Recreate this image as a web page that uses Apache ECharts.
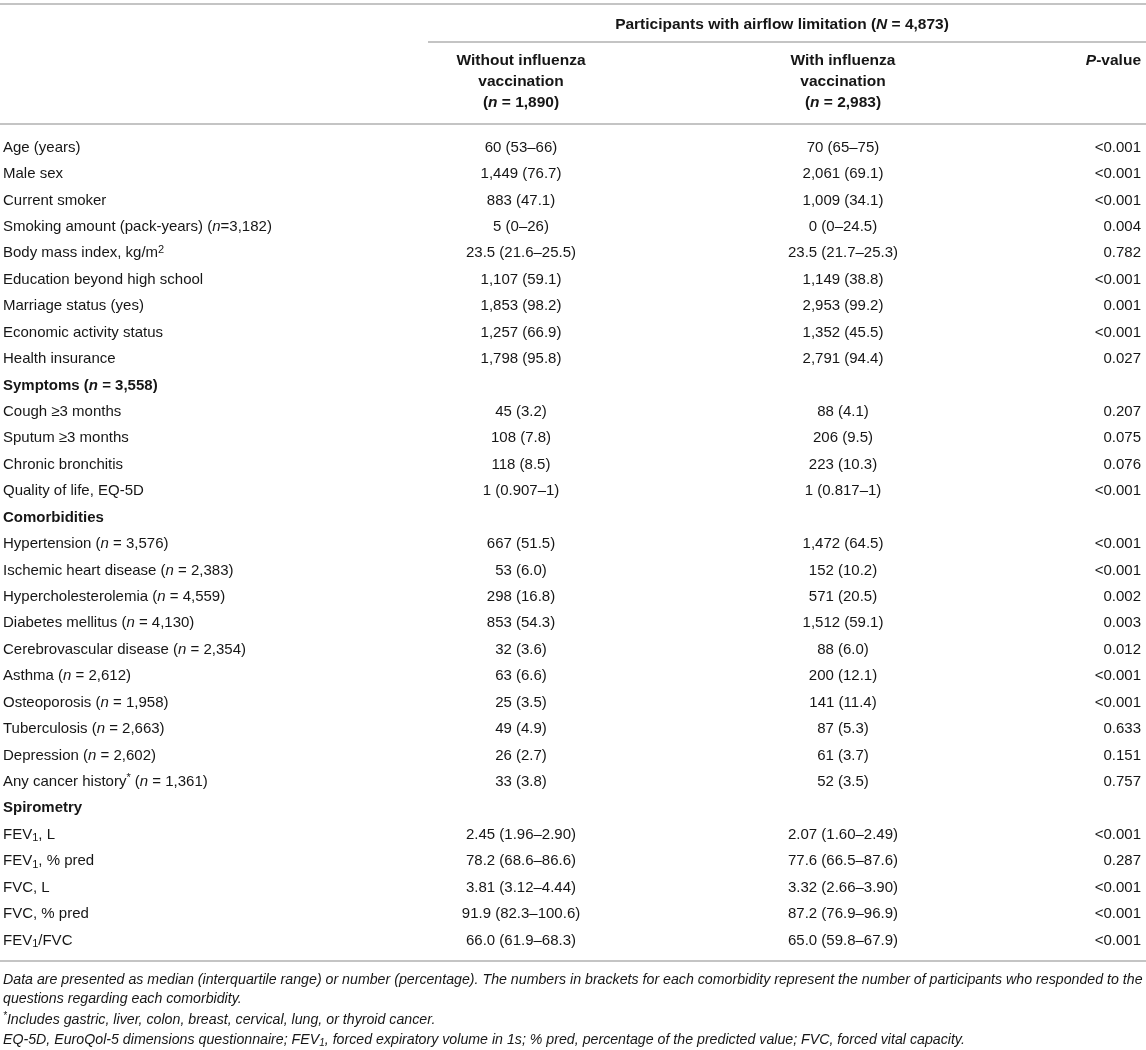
<!DOCTYPE html>
<html>
<head>
<meta charset="utf-8">
<title>Participants with airflow limitation</title>
<script src="https://cdn.jsdelivr.net/npm/echarts@6/dist/echarts.min.js"></script>
<style>
html, body { margin: 0; padding: 0; background: #fff; }
#tableChart { width: 1146px; height: 1050px; }
</style>
</head>
<body>
<div id="tableChart"></div>
<script>
// table rows
var rowLabels = [
	'Age (years)',
	'Male sex',
	'Current smoker',
	'Smoking amount (pack-years) (n=3,182)',
	'Body mass index, kg/m2',
	'Education beyond high school',
	'Marriage status (yes)',
	'Economic activity status',
	'Health insurance',
	'Symptoms (n = 3,558)',
	'Cough \u22653 months',
	'Sputum \u22653 months',
	'Chronic bronchitis',
	'Quality of life, EQ-5D',
	'Comorbidities',
	'Hypertension (n = 3,576)',
	'Ischemic heart disease (n = 2,383)',
	'Hypercholesterolemia (n = 4,559)',
	'Diabetes mellitus (n = 4,130)',
	'Cerebrovascular disease (n = 2,354)',
	'Asthma (n = 2,612)',
	'Osteoporosis (n = 1,958)',
	'Tuberculosis (n = 2,663)',
	'Depression (n = 2,602)',
	'Any cancer history* (n = 1,361)',
	'Spirometry',
	'FEV1, L',
	'FEV1, % pred',
	'FVC, L',
	'FVC, % pred',
	'FEV1/FVC'
];
var sectionRows = ['Symptoms (n = 3,558)', 'Comorbidities', 'Spirometry'];

var withoutVacc = [
	'60 (53\u201366)', '1,449 (76.7)', '883 (47.1)', '5 (0\u201326)', '23.5 (21.6\u201325.5)',
	'1,107 (59.1)', '1,853 (98.2)', '1,257 (66.9)', '1,798 (95.8)', '',
	'45 (3.2)', '108 (7.8)', '118 (8.5)', '1 (0.907\u20131)', '',
	'667 (51.5)', '53 (6.0)', '298 (16.8)', '853 (54.3)', '32 (3.6)',
	'63 (6.6)', '25 (3.5)', '49 (4.9)', '26 (2.7)', '33 (3.8)', '',
	'2.45 (1.96\u20132.90)', '78.2 (68.6\u201386.6)', '3.81 (3.12\u20134.44)', '91.9 (82.3\u2013100.6)', '66.0 (61.9\u201368.3)'
];
var withVacc = [
	'70 (65\u201375)', '2,061 (69.1)', '1,009 (34.1)', '0 (0\u201324.5)', '23.5 (21.7\u201325.3)',
	'1,149 (38.8)', '2,953 (99.2)', '1,352 (45.5)', '2,791 (94.4)', '',
	'88 (4.1)', '206 (9.5)', '223 (10.3)', '1 (0.817\u20131)', '',
	'1,472 (64.5)', '152 (10.2)', '571 (20.5)', '1,512 (59.1)', '88 (6.0)',
	'200 (12.1)', '141 (11.4)', '87 (5.3)', '61 (3.7)', '52 (3.5)', '',
	'2.07 (1.60\u20132.49)', '77.6 (66.5\u201387.6)', '3.32 (2.66\u20133.90)', '87.2 (76.9\u201396.9)', '65.0 (59.8\u201367.9)'
];
var pValues = [
	'<0.001', '<0.001', '<0.001', '0.004', '0.782', '<0.001', '0.001', '<0.001', '0.027', '',
	'0.207', '0.075', '0.076', '<0.001', '',
	'<0.001', '<0.001', '0.002', '0.003', '0.012', '<0.001', '<0.001', '0.633', '0.151', '0.757', '',
	'<0.001', '0.287', '<0.001', '<0.001', '<0.001'
];

// header texts
var groupTitle = 'Participants with airflow limitation (N = 4,873)';
var withoutTitle = ['Without influenza', 'vaccination', '(n = 1,890)'];
var withTitle = ['With influenza', 'vaccination', '(n = 2,983)'];
var pTitle = 'P-value';

var footnotes = [
	'Data are presented as median (interquartile range) or number (percentage). The numbers in brackets for each comorbidity represent the number of participants who responded to the',
	'questions regarding each comorbidity.',
	'*Includes gastric, liver, colon, breast, cervical, lung, or thyroid cancer.',
	'EQ-5D, EuroQol-5 dimensions questionnaire; FEV1, forced expiratory volume in 1s; % pred, percentage of the predicted value; FVC, forced vital capacity.'
];

var FONT = "'Liberation Sans', Arial, Helvetica, sans-serif";
var TEXT = '#161616';
var RULE = '#b0b0b0';
var W = 1146;
var ROW_TOP = 134.3, ROW_H = 26.43;
var X_LABEL = 3, X_WITHOUT = 521, X_WITH = 843, X_P = 1141;
var BODY = 15, HEAD = 15.5, NOTE = 14.2;

function makeRich(size, weight, italic) {
	var st = italic ? 'italic' : 'normal';
	return {
		it:  { fontFamily: FONT, fontSize: size, fontStyle: 'italic', fontWeight: 'normal', fill: TEXT },
		itb: { fontFamily: FONT, fontSize: size, fontStyle: 'italic', fontWeight: 'bold', fill: TEXT },
		sub: { fontFamily: FONT, fontSize: Math.round(size * 0.7), fontStyle: st, fontWeight: weight, fill: TEXT,
			verticalAlign: 'bottom', lineHeight: Math.round(size * 0.75) },
		sup: { fontFamily: FONT, fontSize: Math.round(size * 0.7), fontStyle: st, fontWeight: weight, fill: TEXT,
			verticalAlign: 'top', lineHeight: Math.round(size * 0.75) }
	};
}

function markup(s, bold) {
	var it = bold ? 'itb' : 'it';
	return s.replace(/\((n|N)( ?)=/g, function(m, v, sp){ return '({' + it + '|' + v + '}' + sp + '='; })
		.replace(/^P-/, '{' + it + '|P}-')
		.replace(/FEV1/g, 'FEV{sub|1}')
		.replace('kg/m2', 'kg/m{sup|2}')
		.replace('history*', 'history{sup|*}')
		.replace(/^\*/, '{sup|*}');
}

function textEl(x, y, str, align, size, bold, italic) {
	var weight = bold ? 'bold' : 'normal';
	return {
		type: 'text',
		x: x,
		y: y,
		silent: true,
		style: {
			text: markup(str, bold),
			fontFamily: FONT,
			fontSize: size,
			fontWeight: weight,
			fontStyle: italic ? 'italic' : 'normal',
			fill: TEXT,
			lineHeight: Math.round(size * 1.2),
			align: align,
			textAlign: align,
			verticalAlign: 'middle',
			textVerticalAlign: 'middle',
			rich: makeRich(size, weight, italic)
		}
	};
}

function renderRow(params, api) {
	var i = api.value(1);
	var bold = sectionRows.indexOf(rowLabels[i]) >= 0;
	var y = api.coord([0, i])[1];
	var kids = [textEl(api.coord([X_LABEL, i])[0], y, rowLabels[i], 'left', BODY, bold, false)];
	if (withoutVacc[i]) kids.push(textEl(api.coord([X_WITHOUT, i])[0], y, withoutVacc[i], 'center', BODY, false, false));
	if (withVacc[i]) kids.push(textEl(api.coord([X_WITH, i])[0], y, withVacc[i], 'center', BODY, false, false));
	if (pValues[i]) kids.push(textEl(api.coord([X_P, i])[0], y, pValues[i], 'right', BODY, false, false));
	return { type: 'group', children: kids };
}

function rule(x1, x2, y) {
	return { type: 'line', silent: true, shape: { x1: x1, y1: y, x2: x2, y2: y },
		style: { stroke: RULE, lineWidth: 1.5 } };
}

var graphics = [
	rule(0, W, 4),
	rule(428, W, 42),
	rule(0, W, 124),
	rule(0, W, 961),
	textEl(782, 25, groupTitle, 'center', HEAD, true, false),
	textEl(X_P, 61, pTitle, 'right', HEAD, true, false)
];
for (var h = 0; h < withoutTitle.length; h++) {
	graphics.push(textEl(X_WITHOUT, 61 + h * 21, withoutTitle[h], 'center', HEAD, true, false));
	graphics.push(textEl(X_WITH, 61 + h * 21, withTitle[h], 'center', HEAD, true, false));
}
var noteY = [980, 999, 1020, 1040];
for (var f = 0; f < footnotes.length; f++) {
	graphics.push(textEl(X_LABEL, noteY[f], footnotes[f], 'left', NOTE, false, true));
}

var tableChart = echarts.init(document.getElementById('tableChart'));
var option = {
	animation: false,
	grid: { left: 0, right: 0, top: ROW_TOP, height: ROW_H * rowLabels.length },
	xAxis: { type: 'value', min: 0, max: W, show: false },
	yAxis: { type: 'category', data: rowLabels, inverse: true, show: false },
	series: [{
		type: 'custom',
		renderItem: renderRow,
		encode: { x: 0, y: 1 },
		data: rowLabels.map(function(l, i){ return [0, i]; }),
		silent: true
	}],
	graphic: graphics
};
tableChart.setOption(option);
</script>
</body>
</html>
